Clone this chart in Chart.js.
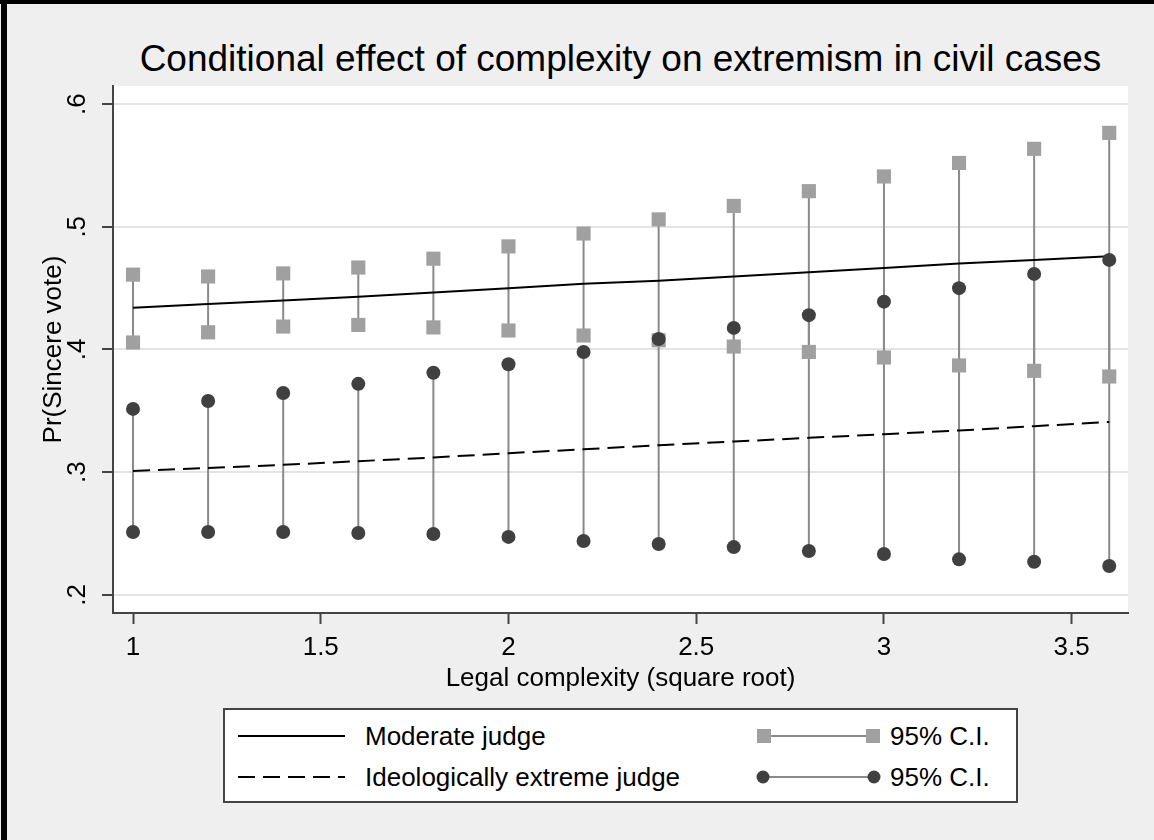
<!DOCTYPE html>
<html>
<head>
<meta charset="utf-8">
<script src="https://cdn.jsdelivr.net/npm/chart.js@4.4.1/dist/chart.umd.min.js"></script>
<style>
  html, body { margin:0; padding:0; }
  body { width:1154px; height:840px; background:#efefef; position:relative; overflow:hidden;
         font-family:"Liberation Sans", Arial, Helvetica, sans-serif; color:#000; }
  #chart { position:absolute; left:0; top:0; }
  .bar { position:absolute; background:#000; }
  #title { position:absolute; left:0; width:1241px; top:37px; text-align:center; font-size:37px; line-height:44px; white-space:nowrap; }
  #legend { position:absolute; left:223px; top:708px; width:791px; height:91px; border:2px solid #444; background:#fff; }
  .lt { position:absolute; font-size:26px; line-height:30px; white-space:nowrap; }
  .sw { position:absolute; }
</style>
</head>
<body>
<div class="bar" style="left:1px;top:0;width:6px;height:840px"></div>
<div class="bar" style="left:0;top:0;width:1154px;height:4px"></div>
<div id="title">Conditional effect of complexity on extremism in civil cases</div>
<canvas id="chart" width="1154" height="840"></canvas>
<div id="legend"></div>
<script>
// ---- data ----
const xValues = [1, 1.2, 1.4, 1.6, 1.8, 2.0, 2.2, 2.4, 2.6, 2.8, 3.0, 3.2, 3.4, 3.6];
const moderate = [0.434, 0.437, 0.440, 0.443, 0.4465, 0.450, 0.4535, 0.456, 0.4595, 0.463, 0.4665, 0.470, 0.473, 0.476];
const extreme = [0.301, 0.3035, 0.306, 0.309, 0.312, 0.3155, 0.3187, 0.322, 0.325, 0.328, 0.331, 0.334, 0.3375, 0.341];
const modUpper = [0.461, 0.4595, 0.462, 0.4668, 0.474, 0.484, 0.4945, 0.506, 0.517, 0.529, 0.541, 0.552, 0.5635, 0.5765];
const modLower = [0.4057, 0.414, 0.4187, 0.420, 0.418, 0.4155, 0.4114, 0.4075, 0.4024, 0.398, 0.3935, 0.387, 0.3826, 0.378];
const extUpper = [0.3516, 0.358, 0.3646, 0.372, 0.381, 0.388, 0.398, 0.4086, 0.4176, 0.428, 0.439, 0.450, 0.4616, 0.473];
const extLower = [0.2513, 0.2513, 0.2513, 0.2505, 0.2497, 0.2473, 0.244, 0.2415, 0.239, 0.2358, 0.2334, 0.229, 0.227, 0.2236];
const xTicks = [1, 1.5, 2, 2.5, 3, 3.5];
const xTickLabels = ['1', '1.5', '2', '2.5', '3', '3.5'];
const yTicks = [0.2, 0.3, 0.4, 0.5, 0.6];
const yTickLabels = ['.2', '.3', '.4', '.5', '.6'];
const legendLabels = ['Moderate judge', 'Ideologically extreme judge', '95% C.I.', '95% C.I.'];

const FONT = '"Liberation Sans", Arial, Helvetica, sans-serif';
const SQUARE = '#a0a0a0', CIRCLE = '#404040', CILINE = '#8a8a8a';

function pts(ys) { return xValues.map((x, i) => ({x: x, y: ys[i]})); }
function segs(lo, hi) {
  const out = [];
  xValues.forEach((x, i) => { out.push({x: x, y: lo[i]}, {x: x, y: hi[i]}, {x: x, y: null}); });
  return out;
}

const plotBg = {
  id: 'plotBg',
  beforeDraw(chart) {
    const a = chart.chartArea, c = chart.ctx;
    c.save(); c.fillStyle = '#fff'; c.fillRect(a.left, a.top, a.right - a.left, a.bottom - a.top); c.restore();
  }
};

const markerBase = { showLine: false, borderWidth: 0, pointBorderWidth: 0 };

new Chart(document.getElementById('chart'), {
  type: 'scatter',
  data: {
    datasets: [
      Object.assign({ data: pts(extUpper), pointStyle: 'circle', pointRadius: 7, backgroundColor: CIRCLE, pointBackgroundColor: CIRCLE }, markerBase),
      Object.assign({ data: pts(extLower), pointStyle: 'circle', pointRadius: 7, backgroundColor: CIRCLE, pointBackgroundColor: CIRCLE }, markerBase),
      Object.assign({ data: pts(modUpper), pointStyle: 'rect', pointRadius: 10, backgroundColor: SQUARE, pointBackgroundColor: SQUARE }, markerBase),
      Object.assign({ data: pts(modLower), pointStyle: 'rect', pointRadius: 10, backgroundColor: SQUARE, pointBackgroundColor: SQUARE }, markerBase),
      { data: pts(moderate), showLine: true, borderColor: '#000', borderWidth: 2, pointRadius: 0, fill: false },
      { data: pts(extreme), showLine: true, borderColor: '#000', borderWidth: 2, borderDash: [17, 8], pointRadius: 0, fill: false },
      { data: segs(extLower, extUpper), showLine: true, spanGaps: false, borderColor: CILINE, borderWidth: 2, pointRadius: 0, fill: false },
      { data: segs(modLower, modUpper), showLine: true, spanGaps: false, borderColor: CILINE, borderWidth: 2, pointRadius: 0, fill: false }
    ]
  },
  options: {
    responsive: false,
    devicePixelRatio: 1,
    animation: false,
    events: [],
    layout: { padding: { left: 0, top: 86, right: 26, bottom: 145 } },
    plugins: { legend: { display: false }, tooltip: { enabled: false }, title: { display: false } },
    scales: {
      x: {
        type: 'linear', min: 0.9467, max: 3.65,
        afterBuildTicks: s => { s.ticks = xTicks.map(v => ({value: v})); },
        afterFit: s => { s.height = 82; },
        ticks: { autoSkip: false, minRotation: 0, maxRotation: 0, padding: 8, color: '#000',
                 font: { size: 26, family: FONT }, callback: (v, i) => xTickLabels[i] },
        grid: { drawOnChartArea: false, tickLength: 11, tickColor: '#444', tickWidth: 2 },
        border: { color: '#444', width: 2 },
        title: { display: true, text: 'Legal complexity (square root)', color: '#000',
                 font: { size: 26, family: FONT }, padding: { top: 0, bottom: 1 } }
      },
      y: {
        type: 'linear', min: 0.1853, max: 0.6147,
        afterBuildTicks: s => { s.ticks = yTicks.map(v => ({value: v})); },
        afterFit: s => { s.width = 113; },
        ticks: { autoSkip: false, minRotation: 90, maxRotation: 90, crossAlign: 'center', padding: 13, color: '#000',
                 font: { size: 26, family: FONT }, callback: (v, i) => yTickLabels[i] },
        grid: { color: '#e4e4e4', lineWidth: 2, tickColor: '#444', tickLength: 11, tickWidth: 2 },
        border: { color: '#444', width: 2 },
        title: { display: true, text: 'Pr(Sincere vote)', color: '#000',
                 font: { size: 26, family: FONT }, padding: { top: 38, bottom: 0 } }
      }
    }
  },
  plugins: [plotBg]
});

// ---- legend (HTML, page coordinates relative to legend box) ----
const lg = document.getElementById('legend');
const L = 225, T = 710; // inner origin of legend box
function add(html) { lg.insertAdjacentHTML('beforeend', html); }
const rows = [736, 777];
add(`<svg class="sw" style="left:${238-L}px;top:${rows[0]-T-5}px" width="110" height="10"><line x1="0" y1="5" x2="107" y2="5" stroke="#000" stroke-width="2"/></svg>`);
add(`<svg class="sw" style="left:${238-L}px;top:${rows[1]-T-5}px" width="110" height="10"><line x1="0" y1="5" x2="107" y2="5" stroke="#000" stroke-width="2" stroke-dasharray="17 8"/></svg>`);
add(`<div class="lt" style="left:${365-L}px;top:${rows[0]-T-15}px">${legendLabels[0]}</div>`);
add(`<div class="lt" style="left:${365-L}px;top:${rows[1]-T-15}px">${legendLabels[1]}</div>`);
add(`<svg class="sw" style="left:${755-L}px;top:${rows[0]-T-10}px" width="128" height="20"><line x1="9" y1="10" x2="118" y2="10" stroke="${CILINE}" stroke-width="2"/><rect x="2" y="3" width="14" height="14" fill="${SQUARE}"/><rect x="111" y="3" width="14" height="14" fill="${SQUARE}"/></svg>`);
add(`<svg class="sw" style="left:${755-L}px;top:${rows[1]-T-10}px" width="128" height="20"><line x1="8" y1="10" x2="119" y2="10" stroke="${CILINE}" stroke-width="2"/><circle cx="8" cy="10" r="6.5" fill="${CIRCLE}"/><circle cx="119" cy="10" r="6.5" fill="${CIRCLE}"/></svg>`);
add(`<div class="lt" style="left:${890-L}px;top:${rows[0]-T-15}px">${legendLabels[2]}</div>`);
add(`<div class="lt" style="left:${890-L}px;top:${rows[1]-T-15}px">${legendLabels[3]}</div>`);
</script>
</body>
</html>
